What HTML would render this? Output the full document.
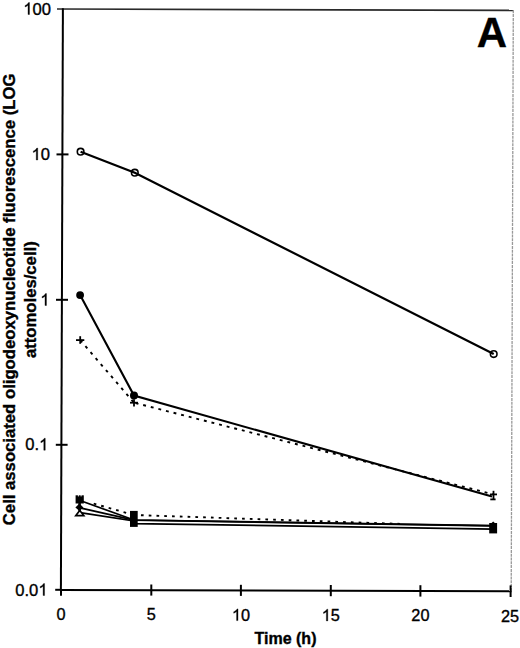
<!DOCTYPE html>
<html><head><meta charset="utf-8">
<style>
html,body{margin:0;padding:0;background:#fff;}
body{width:520px;height:648px;overflow:hidden;}
svg{display:block;}
text{font-family:"Liberation Sans",sans-serif;fill:#000;stroke:#000;stroke-width:0.35px;}
path.g1,g path[transform]{fill:#000;stroke:#000;stroke-width:43px;}
</style></head>
<body>
<svg width="520" height="648" viewBox="0 0 520 648">
<rect x="0" y="0" width="520" height="648" fill="#fff"/>
<!-- frame top/right (grey) -->
<line x1="57" y1="9" x2="513.5" y2="10.3" stroke="#2a2a2a" stroke-width="1.7"/>
<line x1="513.3" y1="10.3" x2="511.2" y2="591" stroke="#999" stroke-width="1.3" stroke-dasharray="3,0.8"/>
<!-- axes -->
<line x1="62.9" y1="8.2" x2="60.9" y2="590.6" stroke="#000" stroke-width="2"/>
<line x1="60" y1="589.9" x2="511.5" y2="591.3" stroke="#000" stroke-width="2"/>
<!-- y ticks -->
<g stroke="#000" stroke-width="2">
<line x1="56.5" y1="154.4" x2="68.5" y2="154.4"/>
<line x1="56" y1="299.8" x2="68" y2="299.8"/>
<line x1="55.8" y1="444.8" x2="67.6" y2="444.8"/>
<line x1="55.2" y1="589.8" x2="61" y2="589.8"/>
<line x1="61" y1="590" x2="61" y2="595.8"/>
<!-- x ticks -->
<line x1="151.3" y1="584.5" x2="151.3" y2="595.6"/>
<line x1="240.9" y1="584.8" x2="240.9" y2="595.9"/>
<line x1="330.8" y1="585" x2="330.8" y2="596.2"/>
<line x1="420.4" y1="585.2" x2="420.4" y2="596.6"/>
<line x1="510.6" y1="585.4" x2="510.6" y2="597"/>
</g>
<!-- y tick labels -->
<g font-size="16.6">
<path transform="translate(23.30,14.5) scale(0.008105,-0.008105)" d="M763,0 L583,0 L583,1147 Q518,1085 412.5,1023 Q307,961 223,930 L223,1104 Q374,1175 487,1276 Q600,1377 650,1472 L763,1472 Z"/>
<text x="32.54" y="14.5">00</text>
<path transform="translate(31.54,160) scale(0.008105,-0.008105)" d="M763,0 L583,0 L583,1147 Q518,1085 412.5,1023 Q307,961 223,930 L223,1104 Q374,1175 487,1276 Q600,1377 650,1472 L763,1472 Z"/>
<text x="40.77" y="160">0</text>
<path transform="translate(40.27,305.5) scale(0.008105,-0.008105)" d="M763,0 L583,0 L583,1147 Q518,1085 412.5,1023 Q307,961 223,930 L223,1104 Q374,1175 487,1276 Q600,1377 650,1472 L763,1472 Z"/>
<text x="25.22" y="450.2">0.</text>
<path transform="translate(39.07,450.2) scale(0.008105,-0.008105)" d="M763,0 L583,0 L583,1147 Q518,1085 412.5,1023 Q307,961 223,930 L223,1104 Q374,1175 487,1276 Q600,1377 650,1472 L763,1472 Z"/>
<text x="15.29" y="595.5">0.0</text>
<path transform="translate(38.37,595.5) scale(0.008105,-0.008105)" d="M763,0 L583,0 L583,1147 Q518,1085 412.5,1023 Q307,961 223,930 L223,1104 Q374,1175 487,1276 Q600,1377 650,1472 L763,1472 Z"/>
</g>
<!-- x tick labels -->
<g font-size="16.3">
<text x="56.47" y="620">0</text>
<text x="146.77" y="620.3">5</text>
<path transform="translate(231.93,620.6) scale(0.007959,-0.007959)" d="M763,0 L583,0 L583,1147 Q518,1085 412.5,1023 Q307,961 223,930 L223,1104 Q374,1175 487,1276 Q600,1377 650,1472 L763,1472 Z"/>
<text x="241.00" y="620.6">0</text>
<path transform="translate(321.73,620.9) scale(0.007959,-0.007959)" d="M763,0 L583,0 L583,1147 Q518,1085 412.5,1023 Q307,961 223,930 L223,1104 Q374,1175 487,1276 Q600,1377 650,1472 L763,1472 Z"/>
<text x="330.80" y="620.9">5</text>
<text x="411.33" y="621.2">20</text>
<text x="500.93" y="621.5">25</text>
</g>
<text x="285.5" y="643.5" font-size="16" font-weight="bold" text-anchor="middle">Time (h)</text>
<!-- y axis label -->
<g font-weight="bold" font-size="16.7" text-anchor="middle">
<text transform="translate(14.5,299.4) rotate(-90)">Cell associated oligodeoxynucleotide fluorescence (LOG</text>
<text transform="translate(36.2,299.7) rotate(-90)">attomoles/cell)</text>
</g>
<!-- panel letter -->
<text x="476.8" y="46.6" font-size="42" font-weight="bold">A</text>

<!-- series: open circles -->
<polyline points="80.6,151.7 134.8,172.7 493.7,354.1" fill="none" stroke="#000" stroke-width="2.2"/>
<g fill="none" stroke="#000" stroke-width="1.6">
<circle cx="80.6" cy="151.7" r="3.3"/>
<circle cx="134.8" cy="172.7" r="3.3"/>
<circle cx="493.7" cy="354.1" r="3.3"/>
</g>
<!-- series: filled circles -->
<polyline points="80.1,295.1 134,395.6 492,496.5" fill="none" stroke="#000" stroke-width="2.1"/>
<circle cx="80.1" cy="295.1" r="3.9" fill="#000"/>
<circle cx="134" cy="395.6" r="4" fill="#000"/>
<!-- series: plus dotted -->
<g fill="none" stroke="#000" stroke-width="1.9">
<path d="M80.2,340.1 L134,402.7" stroke-dasharray="2.9,4.96" stroke-dashoffset="-0.15"/>
<path d="M134,402.7 L493.5,494.4" stroke-dasharray="2.9,4.93" stroke-dashoffset="6.18"/>
</g>
<g stroke="#000" stroke-width="1.8">
<line x1="76" y1="340.1" x2="84.3" y2="340.1"/><line x1="80.2" y1="336.2" x2="80.2" y2="343.8"/>
<line x1="130" y1="402.7" x2="138" y2="402.7"/><line x1="134" y1="399.2" x2="134" y2="406.5"/>
<line x1="490" y1="494.4" x2="497" y2="494.4"/><line x1="493.5" y1="490.8" x2="493.5" y2="499.5"/>
<line x1="490.3" y1="499.4" x2="495.6" y2="499.4"/>
</g>
<!-- lower cluster -->
<g fill="none" stroke="#000" stroke-width="1.7">
<polyline points="80,500.5 134,520 493,525.6"/>
<polyline points="80,507.8 134,520.2 493,525.8"/>
<polyline points="80,512.7 134,521 134,523.6 493,529.1"/>
</g>
<g fill="none" stroke="#000" stroke-width="1.9">
<path d="M91,502.9 L134,515" stroke-dasharray="2.7,5.05" stroke-dashoffset="4.93"/>
<path d="M134,515 L400,523.9" stroke-dasharray="2.7,5.08" stroke-dashoffset="0.83"/>
</g>
<!-- markers x=1 -->
<rect x="75.6" y="495.3" width="8.2" height="8.2" fill="#000"/>
<rect x="77.9" y="495.1" width="1" height="1.3" fill="#fff"/><rect x="80.6" y="495.1" width="1" height="1.3" fill="#fff"/>
<path d="M79.4,503.6 L83.4,507.4 L79.4,511 L75.4,507.4 Z" fill="#000"/>
<path d="M79.8,510.4 L83.8,515.6 L75.8,515.6 Z" fill="#fff" stroke="#000" stroke-width="1.7"/>
<line x1="79.6" y1="503" x2="79.6" y2="511" stroke="#000" stroke-width="2.5"/>
<!-- markers x=4 -->
<rect x="130" y="510.9" width="7.7" height="16" fill="#000"/>
<!-- markers x=24 -->
<rect x="489.2" y="523" width="7.9" height="10.4" fill="#000"/>
<path d="M491,523.5 L493.2,521.6 L495.4,523.5 Z" fill="#000"/>
</svg>
</body></html>
